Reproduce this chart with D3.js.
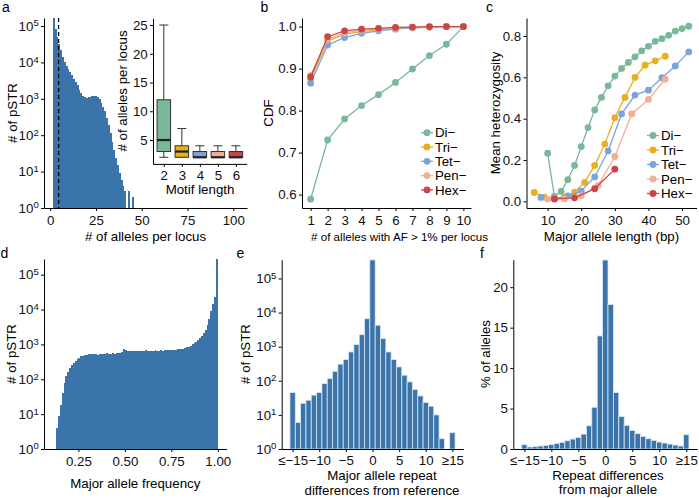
<!DOCTYPE html>
<html>
<head>
<meta charset="utf-8">
<script src="https://cdn.jsdelivr.net/npm/d3@7"></script>
<style>
    body { margin: 0; background: #fff; }
    svg { display: block; }
</style>
</head>
<body>
<svg id="fig" width="699" height="498"></svg>
<script>
// a: number of alleles per locus (histogram) + inset boxplot
const alleleNum = [2,3,4,5,6,7,8,9,10,11,12,13,14,15,16,17,18,19,20,21,22,23,24,25,26,27,28,29,30,31,32,33,34,35,36,37,38,39,40,41,42,43,44,45];
const alleleLoci = [250000,83000,51000,33000,22000,14500,10500,7900,6500,5600,4500,3600,2950,2400,1750,1400,1200,1100,1070,1100,1150,1230,1230,1200,1100,980,760,600,450,290,190,112,66,39,23,15,9,6,4,3,0,3,0,2];
const meanAlleles = 4.56;

const motifLen = [2,3,4,5,6];
const boxLow = [2,2,2,2,2];
const boxQ1 = [3,2,2,2,2];
const boxMed = [5,3,2,2,2];
const boxQ3 = [12,4,3,3,3];
const boxHigh = [25,7,4,4,4];

// b: CDF of common alleles
const afCount = [1,2,3,4,5,6,7,8,9,10];
const cdfDi = [0.589,0.730,0.780,0.812,0.838,0.867,0.899,0.931,0.958,1.0];
const cdfTri = [0.874,0.966,0.982,0.988,0.992,0.995,0.997,0.999,1.0,1.0];
const cdfTet = [0.865,0.956,0.974,0.984,0.990,0.994,0.997,0.999,1.0,1.0];
const cdfPen = [0.884,0.970,0.985,0.991,0.994,0.996,0.998,0.999,1.0,1.0];
const cdfHex = [0.880,0.976,0.990,0.994,0.996,0.998,0.999,1.0,1.0,1.0];

// c: heterozygosity vs major allele length
const lenDi = [10,12,14,16,18,20,22,24,26,28,30,32,34,36,38,40,42,44,46,48,50,52];
const hetDi = [0.233,0.024,0.048,0.105,0.174,0.265,0.357,0.442,0.503,0.559,0.606,0.643,0.672,0.699,0.728,0.750,0.774,0.787,0.803,0.824,0.836,0.847];
const lenTri = [6,9,12,15,18,21,24,27,30,33,36,39,42,45];
const hetTri = [0.043,0.021,0.013,0.020,0.045,0.092,0.174,0.277,0.405,0.503,0.600,0.659,0.680,0.702];
const lenTet = [8,12,16,20,24,28,32,36,40,44,48,52];
const hetTet = [0.019,0.012,0.027,0.050,0.118,0.244,0.423,0.514,0.538,0.598,0.655,0.723];
const lenPen = [10,15,20,25,30,35,40,45];
const hetPen = [0.011,0.012,0.027,0.077,0.217,0.423,0.493,0.591];
const lenHex = [12,18,24,30];
const hetHex = [0.012,0.017,0.061,0.156];

// d: major allele frequency, bins of 0.01 starting at 0.13
const mafStart = 0.13, mafWidth = 0.01;
const mafLoci = [4,9,18,41,76,
    126,162,209,251,288,331,372,417,457,479,501,
    513,525,525,537,525,537,513,525,537,525,537,550,537,537,550,537,562,550,575,603,
    724,692,631,646,631,
    646,661,646,631,661,646,661,676,646,661,646,661,676,661,646,676,661,676,
    676,692,676,708,692,708,
    724,724,741,759,794,832,851,912,1000,1096,1202,1318,1514,1738,2089,
    2630,3548,5248,8913,14000,22400,275000];

// e/f: repeat differences (-15 means <=-15, 15 means >=15)
const repDiff = [-15,-14,-13,-12,-11,-10,-9,-8,-7,-6,-5,-4,-3,-2,-1,0,1,2,3,4,5,6,7,8,9,10,11,12,13,14,15];
const refDiffLoci = [45,6,22,27,38,45,83,117,190,308,420,700,1150,2240,6600,350000,4250,1730,700,420,255,146,93,56,36,23,18,10,2,0,3];
const majDiffPct = [0.53,0.25,0.29,0.37,0.45,0.53,0.66,0.82,1.02,1.23,1.43,1.84,2.87,5.16,13.98,23.36,17.87,6.97,4.02,2.91,2.30,1.89,1.56,1.27,1.07,0.86,0.74,0.61,0.49,0.37,1.76];

const seriesNames = ["Di\u2212","Tri\u2212","Tet\u2212","Pen\u2212","Hex\u2212"];
const seriesColors = ["#79b898","#e6b022","#7ba4de","#f2b093","#c94646"];
const barBlue = "#3a74ab";
const FONT = "'Liberation Sans', Arial, Helvetica, sans-serif";
const FS = 13.3;

const svg = d3.select("#fig");

function styleAxis(g){
    g.attr("font-family", FONT).attr("font-size", FS);
    g.selectAll("path, line").attr("stroke", "#000").attr("stroke-width", 1);
    g.selectAll("text").attr("fill", "#111");
    return g;
}

function bottomAxis(x, yPos, ticks, fmt, pad = 4.7){
    const g = svg.append("g").attr("transform", "translate(0," + yPos + ")")
        .call(d3.axisBottom(x).tickValues(ticks).tickFormat(fmt).tickSize(3).tickSizeOuter(0).tickPadding(pad));
    return styleAxis(g);
}

function leftAxis(y, xPos, ticks, fmt){
    const g = svg.append("g").attr("transform", "translate(" + xPos + ",0)")
        .call(d3.axisLeft(y).tickValues(ticks).tickFormat(fmt).tickSize(3).tickSizeOuter(0).tickPadding(2.3));
    return styleAxis(g);
}

function powLabels(g){
    g.selectAll(".tick text").each(function(d){
        const t = d3.select(this).text(null);
        t.append("tspan").text("10");
        t.append("tspan").attr("dy", "-0.45em").attr("font-size", "0.72em").text(Math.round(Math.log10(d)));
    });
}

function label(txt, x, y, opts = {}){
    const t = svg.append("text")
        .attr("x", x).attr("y", y)
        .attr("font-family", FONT)
        .attr("font-size", opts.size || FS)
        .attr("text-anchor", opts.anchor || "middle")
        .attr("fill", "#000")
        .text(txt);
    if(opts.rotate){
        t.attr("x", 0).attr("y", 0).attr("dy", "0.35em")
            .attr("transform", "translate(" + x + "," + y + ") rotate(-90)");
    }
    return t;
}

function diffFmt(d){
    if(d === -15) return "\u2264\u221215";
    if(d === 15) return "\u226515";
    return d3.format("d")(d);
}

function legend(px, py0, step){
    seriesNames.forEach((name, i) => {
        const yy = py0 + i * step;
        svg.append("line").attr("x1", px - 6).attr("x2", px + 6).attr("y1", yy).attr("y2", yy)
            .attr("stroke", seriesColors[i]).attr("stroke-width", 1.3);
        svg.append("circle").attr("cx", px).attr("cy", yy).attr("r", 3.4).attr("fill", seriesColors[i]);
        label(name, px + 8, yy, {anchor: "start"}).attr("dy", "0.35em");
    });
}

function drawSeries(x, y, xs, ys, color){
    const pts = xs.map((v, i) => [v, ys[i]]);
    svg.append("path").datum(pts)
        .attr("fill", "none").attr("stroke", color).attr("stroke-width", 1.3)
        .attr("d", d3.line().x(d => x(d[0])).y(d => y(d[1])));
    svg.append("g").selectAll("circle").data(pts).enter().append("circle")
        .attr("cx", d => x(d[0])).attr("cy", d => y(d[1])).attr("r", 3.4)
        .attr("fill", color);
}

// ---------- panel a ----------
const xA = d3.scaleLinear().domain([-3.4, 107.5]).range([44, 247]);
const yA = d3.scaleLog().domain([1, Math.pow(10, 5.22)]).range([208, 18]).clamp(true);

svg.append("g").attr("shape-rendering", "crispEdges").selectAll("rect")
    .data(alleleNum.map((k, i) => ({k: k, v: alleleLoci[i]})).filter(d => d.v > 0))
    .enter().append("rect")
    .attr("x", d => xA(d.k - 0.5))
    .attr("width", d => xA(d.k + 0.5) - xA(d.k - 0.5))
    .attr("y", d => yA(d.v))
    .attr("height", d => yA(1) - yA(d.v))
    .attr("fill", barBlue);

svg.append("line")
    .attr("x1", xA(meanAlleles)).attr("x2", xA(meanAlleles))
    .attr("y1", 18).attr("y2", 208)
    .attr("stroke", "#000").attr("stroke-width", 1.3).attr("stroke-dasharray", "4,3");

powLabels(leftAxis(yA, 44, [1,10,100,1e3,1e4,1e5], d => d));
bottomAxis(xA, 208, [0,25,50,75,100], d3.format("d"));
label("# of pSTR", 12, 113, {rotate: true});
label("# of alleles per locus", 145.5, 241);

// inset boxplot
const xI = d3.scaleLinear().domain([1.4, 6.6]).range([153, 246.7]);
const yI = d3.scaleLinear().domain([0.85, 26.15]).range([163.9, 18.4]);
const boxW = xI(0.375) - xI(0);
const capW = xI(0.25) - xI(0);

motifLen.forEach((m, i) => {
    const cx = xI(m);
    const g = svg.append("g");
    g.append("line").attr("x1", cx).attr("x2", cx).attr("y1", yI(boxHigh[i])).attr("y2", yI(boxLow[i]))
        .attr("stroke", "#333").attr("stroke-width", 1);
    [boxHigh[i], boxLow[i]].forEach(v => {
        g.append("line").attr("x1", cx - capW).attr("x2", cx + capW).attr("y1", yI(v)).attr("y2", yI(v))
            .attr("stroke", "#333").attr("stroke-width", 1);
    });
    g.append("rect").attr("x", cx - boxW).attr("width", 2 * boxW)
        .attr("y", yI(boxQ3[i])).attr("height", yI(boxQ1[i]) - yI(boxQ3[i]))
        .attr("fill", seriesColors[i]).attr("stroke", "#333").attr("stroke-width", 1);
    g.append("line").attr("x1", cx - boxW).attr("x2", cx + boxW).attr("y1", yI(boxMed[i])).attr("y2", yI(boxMed[i]))
        .attr("stroke", "#222").attr("stroke-width", 2.2);
});
leftAxis(yI, 153, [5,10,15,20,25], d3.format("d"));
bottomAxis(xI, 163.9, motifLen, d3.format("d"), 3.5);
label("# of alleles per locus", 122, 91, {rotate: true});
label("Motif length", 200, 194);

// ---------- panel b ----------
const xB = d3.scaleLinear().domain([0.49, 10.45]).range([302, 471]);
const yB = d3.scaleLinear().domain([0.568, 1.0205]).range([208, 18]);
[cdfDi, cdfTri, cdfTet, cdfPen, cdfHex].forEach((s, i) => drawSeries(xB, yB, afCount, s, seriesColors[i]));
leftAxis(yB, 302, [0.6,0.7,0.8,0.9,1.0], d3.format(".1f"));
bottomAxis(xB, 208, afCount, d3.format("d"));
label("CDF", 268.3, 113, {rotate: true});
label("# of alleles with AF > 1% per locus", 399.5, 241, {size: 11.6});
legend(427, 132.7, 14.3);

// ---------- panel c ----------
const xC = d3.scaleLinear().domain([3.7, 54.3]).range([526.5, 696.5]);
const yC = d3.scaleLinear().domain([-0.032, 0.887]).range([208, 18]);
[[lenDi, hetDi], [lenTri, hetTri], [lenTet, hetTet], [lenPen, hetPen], [lenHex, hetHex]]
    .forEach((s, i) => drawSeries(xC, yC, s[0], s[1], seriesColors[i]));
leftAxis(yC, 526.5, [0,0.2,0.4,0.6,0.8], d3.format(".1f"));
bottomAxis(xC, 208, [10,20,30,40,50], d3.format("d"));
label("Mean heterozygosity", 495, 113, {rotate: true});
label("Major allele length (bp)", 611.5, 241);
legend(653, 135.5, 14.5);

// ---------- panel d ----------
const xD = d3.scaleLinear().domain([0.065, 1.048]).range([44, 226.7]);
const yD = d3.scaleLog().domain([1, Math.pow(10, 5.45)]).range([449, 259]).clamp(true);
svg.append("g").attr("shape-rendering", "crispEdges").selectAll("rect")
    .data(mafLoci.map((v, i) => ({x0: mafStart + i * mafWidth, v: v})))
    .enter().append("rect")
    .attr("x", d => xD(d.x0))
    .attr("width", xD(mafWidth) - xD(0))
    .attr("y", d => yD(d.v))
    .attr("height", d => yD(1) - yD(d.v))
    .attr("fill", barBlue);
powLabels(leftAxis(yD, 44, [1,10,100,1e3,1e4,1e5], d => d));
bottomAxis(xD, 449, [0.25,0.5,0.75,1.0], d3.format(".2f"));
label("# of pSTR", 11, 354, {rotate: true});
label("Major allele frequency", 135.3, 487.7);

// ---------- panel e ----------
const xE = d3.scaleLinear().domain([-17.05, 17.05]).range([281.7, 463.3]);
const yE = d3.scaleLog().domain([1, Math.pow(10, 5.55)]).range([449, 259.7]).clamp(true);
svg.append("g").selectAll("rect")
    .data(repDiff.map((k, i) => ({k: k, v: refDiffLoci[i]})).filter(d => d.v > 0))
    .enter().append("rect")
    .attr("x", d => xE(d.k - 0.5))
    .attr("width", d => xE(d.k + 0.5) - xE(d.k - 0.5))
    .attr("y", d => yE(d.v))
    .attr("height", d => yE(1) - yE(d.v))
    .attr("fill", barBlue).attr("stroke", "#dce8f3").attr("stroke-width", 0.8);
powLabels(leftAxis(yE, 281.7, [1,10,100,1e3,1e4,1e5], d => d));
bottomAxis(xE, 449, [-15,-10,-5,0,5,10,15], diffFmt, 3.8);
label("# of pSTR", 245, 354, {rotate: true});
label("Major allele repeat", 382, 480);
label("differences from reference", 382, 494.5);

// ---------- panel f ----------
const xF = d3.scaleLinear().domain([-17.05, 17.05]).range([513.3, 697.3]);
const yF = d3.scaleLinear().domain([0, 23.4]).range([449, 259.7]);
svg.append("g").selectAll("rect")
    .data(repDiff.map((k, i) => ({k: k, v: majDiffPct[i]})))
    .enter().append("rect")
    .attr("x", d => xF(d.k - 0.5))
    .attr("width", d => xF(d.k + 0.5) - xF(d.k - 0.5))
    .attr("y", d => yF(d.v))
    .attr("height", d => yF(0) - yF(d.v))
    .attr("fill", barBlue).attr("stroke", "#dce8f3").attr("stroke-width", 0.8);
leftAxis(yF, 513.3, [0,5,10,15,20], d3.format("d"));
bottomAxis(xF, 449, [-15,-10,-5,0,5,10,15], diffFmt, 3.8);
label("% of alleles", 485, 354, {rotate: true});
label("Repeat differences", 608, 480);
label("from major allele", 608, 494);

// panel letters
[["a", 2, 12], ["b", 260.5, 12], ["c", 486, 12], ["d", 0.5, 258], ["e", 236.5, 258], ["f", 480, 258]]
    .forEach(p => label(p[0], p[1], p[2], {anchor: "start", size: 14}));
</script>
</body>
</html>
